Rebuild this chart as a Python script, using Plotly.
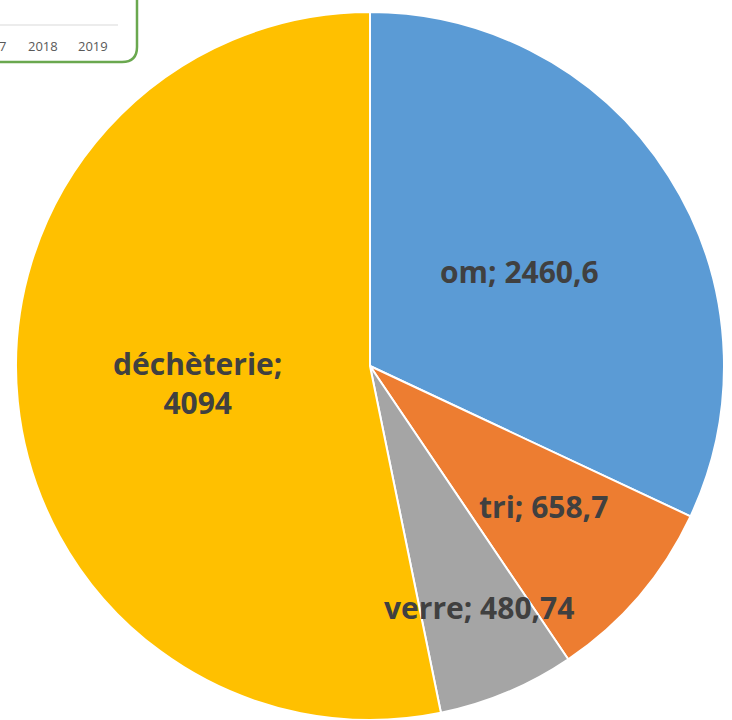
import math
import plotly.graph_objects as go

# ---- data ----
categories = ["om", "tri", "verre", "déchèterie"]
values = [2460.6, 658.7, 480.74, 4094]
value_labels = ["2460,6", "658,7", "480,74", "4094"]
colors = ["#5B9BD5", "#ED7D31", "#A5A5A5", "#FFC000"]
inset_tick_labels = ["7", "2018", "2019"]

W, H = 732, 720
CX, CY, R = 370, 366, 354  # pie centre / radius in pixels

fig = go.Figure(go.Pie(
    labels=categories,
    values=values,
    sort=False,
    direction="clockwise",
    rotation=0,
    marker=dict(colors=colors, line=dict(color="white", width=2)),
    textinfo="none",
    hoverinfo="label+value",
    showlegend=False,
    domain=dict(x=[(CX - R) / W, (CX + R) / W], y=[1 - (CY + R) / H, 1 - (CY - R) / H]),
))

# label placement (fraction of radius along slice mid-angle, plus small pixel nudges)
label_r = [0.50, 0.63, 0.745, 0.49]
label_shift = [(0, 0), (4, 4), (7, 2), (0, 0)]
label_text = [
    f"{categories[0]}; {value_labels[0]}",
    f"{categories[1]}; {value_labels[1]}",
    f"{categories[2]}; {value_labels[2]}",
    f"{categories[3]};<br>{value_labels[3]}",
]
total = sum(values)
cum = 0.0
for i, v in enumerate(values):
    mid = (cum + v / 2) / total * 2 * math.pi
    cum += v
    px = CX + label_r[i] * R * math.sin(mid)
    py = CY - label_r[i] * R * math.cos(mid)
    fig.add_annotation(
        x=px / W, y=1 - py / H, xref="paper", yref="paper",
        xshift=label_shift[i][0], yshift=label_shift[i][1],
        text=f"<b>{label_text[i]}</b>", showarrow=False,
        font=dict(family="Open Sans, sans-serif", size=30, color="#404040"),
        xanchor="center", yanchor="middle", align="center",
    )

# inset fragment of another chart in the top-left corner
def P(x, y):
    return f"{x / W:.5f},{1 - y / H:.5f}"

fig.add_shape(type="rect", xref="paper", yref="paper",
              x0=0, x1=137 / W, y0=1 - 62 / H, y1=1,
              fillcolor="white", line=dict(width=0), layer="above")
fig.add_shape(type="line", xref="paper", yref="paper",
              x0=0, x1=118 / W, y0=1 - 25 / H, y1=1 - 25 / H,
              line=dict(color="#D9D9D9", width=1))
fig.add_shape(type="path", xref="paper", yref="paper",
              path=f"M {P(137, -5)} L {P(137, 47)} Q {P(137, 62)} {P(122, 62)} L {P(-5, 62)}",
              line=dict(color="#6AA84F", width=2.5))
for lbl, x, anc in zip(inset_tick_labels, [8, 43, 93], ["right", "center", "center"]):
    fig.add_annotation(x=x / W, y=1 - 46 / H, xref="paper", yref="paper",
                       text=lbl, showarrow=False, xanchor=anc, yanchor="middle",
                       font=dict(family="Open Sans, sans-serif", size=13, color="#595959"))

fig.update_layout(
    width=W, height=H,
    margin=dict(l=0, r=0, t=0, b=0),
    paper_bgcolor="white", plot_bgcolor="white",
)

fig.write_html("out.html", config={"displayModeBar": False},
               post_script="document.body.style.margin='0px';")
